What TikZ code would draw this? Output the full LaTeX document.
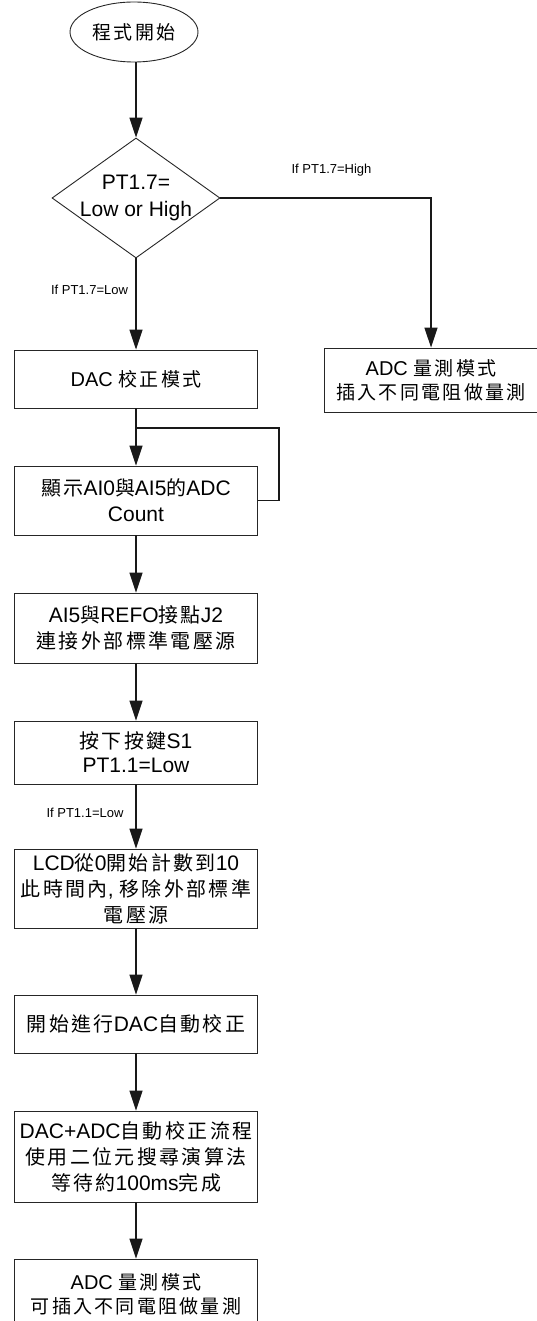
\documentclass[tikz,border=0pt]{standalone}
\usepackage{fontspec}
\setmainfont{Liberation Sans}
\newfontfamily\cjkfont[Scale=0.95,LetterSpace=12]{Noto Sans CJK TC}
\newcommand\zh[1]{{\cjkfont #1}}
\usetikzlibrary{shapes.geometric,arrows.meta}
\begin{document}
\begin{tikzpicture}[x=1pt,y=-1pt,
  boxnode/.style={draw=black!85,line width=0.9pt,rectangle,minimum width=243pt,inner sep=2pt,align=center,font=\fontsize{21}{26}\selectfont},
  conn/.style={line width=1.2pt,black!90},
  arr/.style={conn,-{Triangle[length=20pt,width=13pt]}},
  lbl/.style={font=\fontsize{13}{15}\selectfont,inner sep=0pt}
]
\useasboundingbox (0,0) rectangle (537,1321);
\node[draw=black!85,line width=0.9pt,ellipse,minimum width=128pt,minimum height=60pt,inner sep=0pt,font=\fontsize{20}{24}\selectfont] (start) at (134,32) {\zh{程式開始}};
\node[draw=black!85,line width=0.9pt,diamond,minimum width=168pt,minimum height=120pt,inner sep=0pt] (dec) at (136,198) {};
\node[align=center,font=\fontsize{21}{27}\selectfont,inner sep=0pt] (dectext) at (dec) {PT1.7=\\Low or High};
\node[boxnode,minimum height=58pt,font=\fontsize{20}{24}\selectfont] (dac) at (136,379) {DAC \zh{校正模式}};
\node[boxnode,minimum width=214pt,minimum height=64pt,font=\fontsize{20}{24}\selectfont] (r) at (431,380) {ADC \zh{量測模式}\\\zh{插入不同電阻做量測}};
\node[boxnode,minimum height=69pt] (b2) at (136,500.5) {\zh{顯示}AI0\zh{與}AI5\zh{的}ADC\\Count};
\node[boxnode,minimum height=70pt] (b3) at (136,628) {AI5\zh{與}REFO\zh{接點}J2\\\zh{連接外部標準電壓源}};
\node[boxnode,minimum height=63pt,font=\fontsize{21}{24}\selectfont] (b4) at (136,752.5) {\zh{按下按鍵}S1\\PT1.1=Low};
\node[boxnode,minimum height=79pt] (b5) at (136,888.5) {LCD\zh{從}0\zh{開始計數到}10\\\zh{此時間內}, \zh{移除外部標準}\\\zh{電壓源}};
\node[boxnode,minimum height=58pt] (b6) at (136,1024) {\zh{開始進行}DAC\zh{自動校正}};
\node[boxnode,minimum height=91pt] (b7) at (136,1156.5) {DAC+ADC\zh{自動校正流程}\\\zh{使用二位元搜尋演算法}\\\zh{等待約}100ms\zh{完成}};
\node[boxnode,minimum height=70pt,font=\fontsize{20}{24}\selectfont] (b8) at (136,1294) {ADC \zh{量測模式}\\\zh{可插入不同電阻做量測}};
\node[lbl] (lhigh) at (331.5,170) {If PT1.7=High};
\node[lbl] (llow) at (89.5,290) {If PT1.7=Low};
\node[lbl] (l11) at (85,813) {If PT1.1=Low};
\coordinate (j) at (136,428);
\draw[arr] (start.south -| dec.north) -- (dec.north);
\draw[arr] (dec.east) -| (r.north);
\draw[arr] (dec.south) -- (dac.north);
\draw[arr] (dac.south) -- (b2.north);
\draw[conn] (b2.east) -- ++(21,0) |- (j);
\draw[arr] (b2.south) -- (b3.north);
\draw[arr] (b3.south) -- (b4.north);
\draw[arr] (b4.south) -- (b5.north);
\draw[arr] (b5.south) -- (b6.north);
\draw[arr] (b6.south) -- (b7.north);
\draw[arr] (b7.south) -- (b8.north);
\end{tikzpicture}
\end{document}
